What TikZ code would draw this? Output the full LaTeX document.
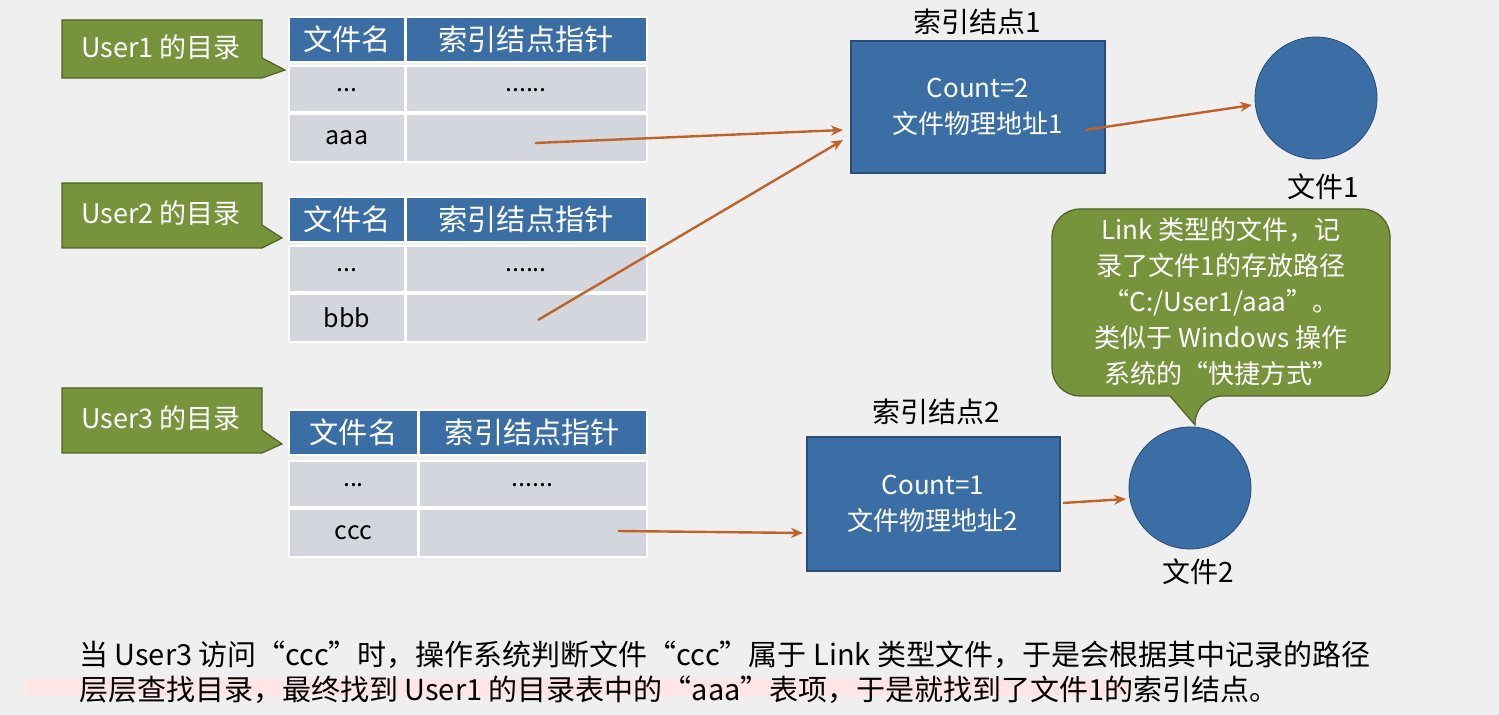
\documentclass[tikz,border=0pt]{standalone}
\usepackage{fontspec}
\setmainfont{Noto Sans CJK SC}
\usetikzlibrary{arrows.meta}
\definecolor{bg}{HTML}{EFEFEF}
\definecolor{hdr}{HTML}{3A6EA5}
\definecolor{rowc}{HTML}{D3D7DD}
\definecolor{grn}{HTML}{77933C}
\definecolor{grnd}{HTML}{4F6228}
\definecolor{inode}{HTML}{3A6EA5}
\definecolor{arr}{HTML}{C0622A}
\tikzset{
  x=0.5pt,y=-0.5pt,
  hcell/.style={fill=hdr,draw=white,line width=1pt},
  rcell/.style={fill=rowc,draw=white,line width=1pt},
  htxt/.style={text=white,font=\fontsize{14.6}{16}\selectfont},
  rtxt/.style={text=black,font=\fontsize{12.5}{14}\selectfont},
  callout/.style={fill=grn,draw=grnd,line width=0.6pt},
  ctxt/.style={text=white,font=\fontsize{13.5}{15}\selectfont},
  ibox/.style={fill=inode,draw=hdr!70!black,line width=0.6pt},
  itxt/.style={text=white,font=\fontsize{13}{18}\selectfont,align=center},
  lbl/.style={font=\fontsize{14}{16}\selectfont},
  link/.style={draw=arr,line width=1.2pt,-{Stealth[length=6pt,width=5pt]}}
}
\newcommand{\mytable}[5]{%
  \fill[hcell] (289,#1) rectangle (#2,#1+45);
  \fill[hcell] (#2,#1) rectangle (647,#1+45);
  \draw[white,line width=1.5pt] (#2,#1) -- (#2,#1+45);
  \node[htxt] at ({(289+#2)/2},#1+22) {文件名};
  \node[htxt] at ({(#2+647)/2},#1+22) {索引结点指针};
  \fill[rcell] (289,#4) rectangle (#2,#4+46);
  \fill[rcell] (#2,#4) rectangle (647,#4+46);
  \fill[rcell] (289,#4+48) rectangle (#2,#4+96);
  \fill[rcell] (#2,#4+48) rectangle (647,#4+96);
  \draw[white,line width=1.5pt] (#2,#4) -- (#2,#4+96) (289,#4+47)--(647,#4+47);
  \node[rtxt] at ({(289+#2)/2},#4+24) {...};
  \node[rtxt] at ({(#2+647)/2},#4+24) {......};
  \node[rtxt] at ({(289+#2)/2},#4+72) {#3};
}
\begin{document}
\begin{tikzpicture}
\fill[bg] (0,0) rectangle (1499,715);
\useasboundingbox (0,0) rectangle (1499,715);
\fill[pink!40] (25,679) rectangle (1130,696);
\mytable{17}{405}{aaa}{66}{}
\mytable{197}{405}{bbb}{246}{}
\mytable{410}{418}{ccc}{461}{}
\path[callout] (62,20) -- (262,20) -- (262,58) -- (285,70) -- (262,78) -- (62,78) -- cycle;
\node[ctxt,anchor=west] (u1) at (74,47) {User1 的目录};
\path[callout] (62,183) -- (262,183) -- (262,225) -- (282,238) -- (262,248) -- (62,248) -- cycle;
\node[ctxt,anchor=west] (u2) at (74,213) {User2 的目录};
\path[callout] (62,388) -- (262,388) -- (262,430) -- (282,444) -- (262,453) -- (62,453) -- cycle;
\node[ctxt,anchor=west] (u3) at (74,418) {User3 的目录};
\path[ibox] (851,41) rectangle (1105,173);
\node[itxt] (i1) at (978,107) {Count=2\\文件物理地址1};
\node[lbl] (l1) at (977,22) {索引结点1};
\path[ibox] (807,437) rectangle (1060,571);
\node[itxt] (i2) at (933,504) {Count=1\\文件物理地址2};
\node[lbl] (l2) at (936,412) {索引结点2};
\node[circle,fill=inode,draw=hdr!70!black,minimum size=61pt,inner sep=0] (f1) at (1316,98) {};
\node[lbl] (fl1) at (1323,187) {文件1};
\node[circle,fill=inode,draw=hdr!70!black,minimum size=61pt,inner sep=0] (f2) at (1190,488) {};
\node[lbl] (fl2) at (1198,572) {文件2};
\path[callout,rounded corners=14pt] (1052,209) -- (1390,209) -- (1390,396) -- (1195,396) [sharp corners] -- (1195,425) -- (1170,396) [rounded corners=14pt] -- (1052,396) -- cycle;
\node[ctxt,align=center,font=\fontsize{13}{18}\selectfont] (note) at (1221,302) {Link 类型的文件，记\\录了文件1的存放路径\\“C:/User1/aaa”。\\类似于 Windows 操作\\系统的“快捷方式”};
\coordinate (a1) at (535,143); \coordinate (a1e) at (843,130);
\coordinate (a2) at (538,320); \coordinate (a2e) at (843,140);
\coordinate (a3) at (1085,130); \coordinate (a3e) at (1252,105);
\coordinate (a4) at (618,531); \coordinate (a4e) at (803,533);
\coordinate (a5) at (1063,503); \coordinate (a5e) at (1126,499);
\draw[link] (a1) -- (a1e);
\draw[link] (a2) -- (a2e);
\draw[link] (a3) -- (a3e);
\draw[link] (a4) -- (a4e);
\draw[link] (a5) -- (a5e);
\node[anchor=west,font=\fontsize{14.5}{16}\selectfont] (t1) at (72,655) {当 User3 访问“ccc”时，操作系统判断文件“ccc”属于 Link 类型文件，于是会根据其中记录的路径};
\node[anchor=west,font=\fontsize{14.5}{16}\selectfont] (t2) at (72,690) {层层查找目录，最终找到 User1 的目录表中的“aaa”表项，于是就找到了文件1的索引结点。};
\end{tikzpicture}
\end{document}
